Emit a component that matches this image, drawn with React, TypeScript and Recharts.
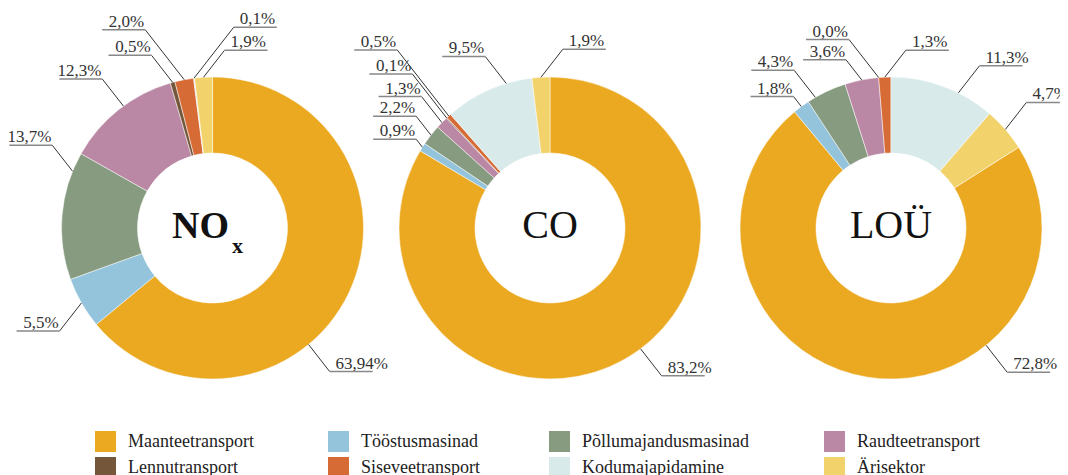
import { PieChart, Pie, Cell } from "recharts";

const categories = [
  "Maanteetransport",
  "Tööstusmasinad",
  "Põllumajandusmasinad",
  "Raudteetransport",
  "Lennutransport",
  "Siseveetransport",
  "Kodumajapidamine",
  "Ärisektor",
];

// osakaalud, %
const noxValues = [63.94, 5.5, 13.7, 12.3, 0.5, 2.0, 0.1, 1.9];
const coValues = [83.2, 0.9, 2.2, 1.3, 0.1, 0.5, 9.5, 1.9];
const louValues = [72.8, 1.8, 4.3, 3.6, 0.0, 1.3, 11.3, 4.7];

const COLORS = ["#EBA922", "#93C4DC", "#869B80", "#BA87A4", "#74573A", "#D76B36", "#D9EAEA", "#F2D26A"];

type LabelSpec = { side: number; rise: number; at: number };
const spec = (side: number, rise: number, at = 0.5): LabelSpec => ({ side, rise, at });

// sildi asetus: pool (-1 vasak / 1 parem), tõus px, koht sektoris
const noxLabels = [spec(1, 27, 0.61), spec(-1, 28), spec(-1, 26, 0.85), spec(-1, 27, 0.55), spec(-1, 27), spec(-1, 50), spec(1, 51), spec(1, 27)];
const coLabels = [spec(1, 27, 0.476), spec(-1, 8), spec(-1, 19), spec(-1, 26), spec(-1, 44), spec(-1, 66), spec(-1, 27, 0.71), spec(1, 28)];
const louLabels = [spec(1, 27, 0.317), spec(-1, 10), spec(-1, 27, 0.2), spec(-1, 20), spec(-1, 38), spec(1, 27), spec(1, 27, 0.65), spec(1, 27)];

const RAD = Math.PI / 180;
const FONT = "'Liberation Serif', 'Times New Roman', serif";
const W = 1060;
const CY = 220;
const R_OUT = 151;
const R_IN = 75;

const sum = (a: number[]) => a.reduce((s, v) => s + v, 0);
const fmt = (v: number) => {
  const oneDec = Math.abs(Math.round(v * 10) - v * 10) < 1e-9;
  return v.toFixed(oneDec ? 1 : 2).replace(".", ",") + "%";
};
const toData = (vals: number[]) => categories.map((name, i) => ({ name, value: vals[i] }));

function makeLabel(layout: LabelSpec[]) {
  return (p: any) => {
    const s = layout[p.index];
    const a = (p.startAngle + (p.endAngle - p.startAngle) * s.at) * RAD;
    const ax = p.cx + p.outerRadius * Math.cos(a);
    const ay = p.cy - p.outerRadius * Math.sin(a);
    const dir = ay < p.cy ? -1 : 1;
    const ex = ax + s.side * s.rise * 0.78;
    const ey = ay + dir * s.rise;
    const ux = ex + s.side * 43;
    return (
      <g key={`lbl-${p.index}`}>
        <line x1={ax} y1={ay} x2={ex} y2={ey} stroke="#333" strokeWidth={1} />
        <line x1={ex} y1={ey} x2={ux} y2={ey} stroke="#888" strokeWidth={1.5} />
        <text
          x={s.side < 0 ? ex - 1 : ex + 6}
          y={ey - 3}
          textAnchor={s.side < 0 ? "end" : "start"}
          style={{ fontFamily: FONT, fontSize: 17 }}
          fill="#333"
        >
          {fmt(p.value)}
        </text>
      </g>
    );
  };
}

const louStart = 90 - ((louValues[6] + louValues[7]) / sum(louValues)) * 360;

const pies = [
  { key: "nox", cx: 204.5, values: noxValues, labels: noxLabels, start: 90 },
  { key: "co", cx: 542, values: coValues, labels: coLabels, start: 90 },
  { key: "lou", cx: 883, values: louValues, labels: louLabels, start: louStart },
];

const legendCols = [87, 320, 541, 816];

export default function App() {
  return (
    <div style={{ position: "relative", width: W, height: 467, fontFamily: FONT }}>
      <PieChart
        width={W}
        height={420}
        margin={{ top: 0, right: 0, bottom: 0, left: 0 }}
        style={{ position: "absolute", left: 0, top: 0 }}
      >
        {pies.map((pie) => (
          <Pie
            key={pie.key}
            data={toData(pie.values)}
            dataKey="value"
            nameKey="name"
            cx={pie.cx}
            cy={CY}
            innerRadius={R_IN}
            outerRadius={R_OUT}
            startAngle={pie.start}
            endAngle={pie.start - 360}
            stroke="#fff"
            strokeWidth={0.5}
            label={makeLabel(pie.labels)}
            labelLine={false}
            isAnimationActive={false}
          >
            {pie.values.map((_, i) => (
              <Cell key={i} fill={COLORS[i]} />
            ))}
          </Pie>
        ))}
      </PieChart>

      <svg width={W} height={420} style={{ position: "absolute", left: 0, top: 0, pointerEvents: "none" }}>
        <text x={pies[0].cx - 40.5} y={CY + 10} fontFamily={FONT} fontSize={38} fontWeight="bold" fill="#111">
          NO
          <tspan dx={3} dy={15} fontSize={22}>
            x
          </tspan>
        </text>
        <text x={pies[1].cx} y={CY + 10} textAnchor="middle" fontFamily={FONT} fontSize={40} fill="#111">
          CO
        </text>
        <text x={pies[2].cx} y={CY + 10} textAnchor="middle" fontFamily={FONT} fontSize={40} fill="#111">
          LOÜ
        </text>
      </svg>

      {categories.map((name, i) => (
        <div
          key={name}
          style={{
            position: "absolute",
            left: legendCols[i % 4],
            top: 423 + Math.floor(i / 4) * 26,
            display: "flex",
            alignItems: "center",
            height: 21,
            lineHeight: "21px",
            fontSize: 18,
            color: "#222",
            whiteSpace: "nowrap",
          }}
        >
          <span style={{ width: 21, height: 21, background: COLORS[i], marginRight: 12, display: "inline-block" }} />
          {name}
        </div>
      ))}
    </div>
  );
}
